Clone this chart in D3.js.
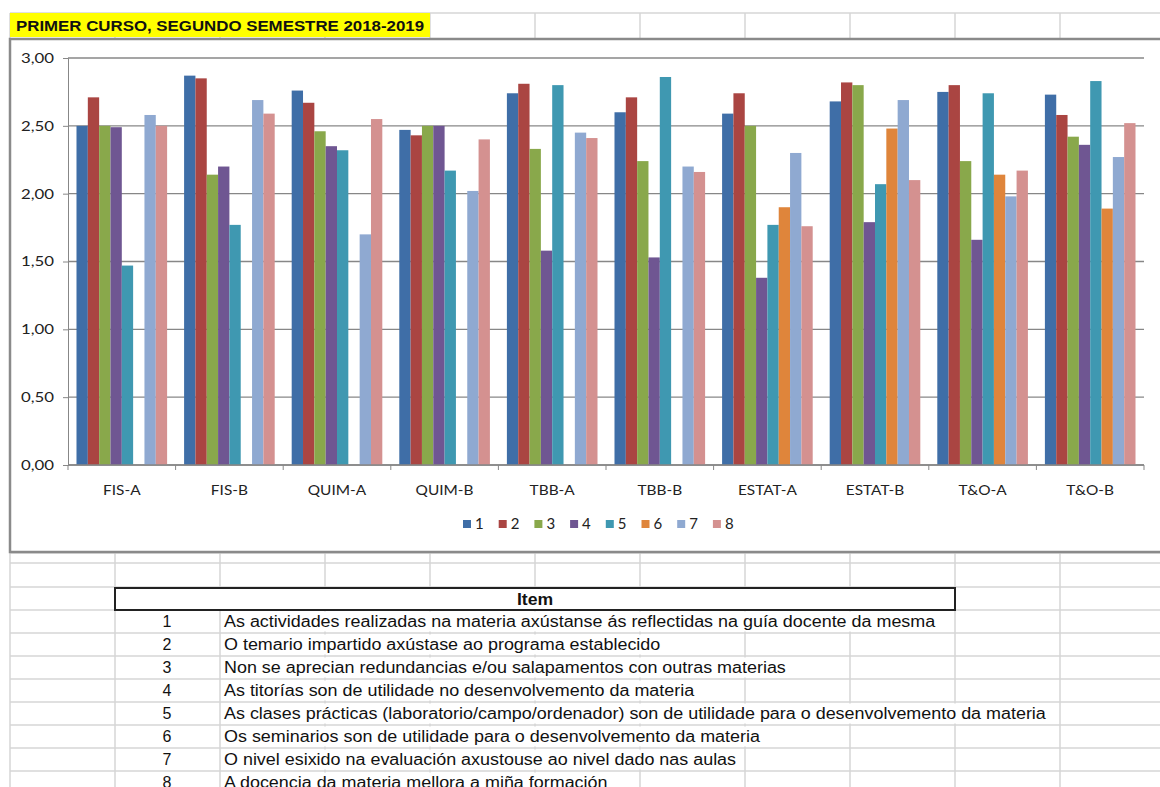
<!DOCTYPE html>
<html>
<head>
<meta charset="utf-8">
<script src="https://cdn.jsdelivr.net/npm/d3@7"></script>
<style>
  body { margin: 0; background: #fff; }
  svg { display: block; }
</style>
</head>
<body>
<script>
// chart data
const categories = ["FIS-A", "FIS-B", "QUIM-A", "QUIM-B", "TBB-A", "TBB-B", "ESTAT-A", "ESTAT-B", "T&O-A", "T&O-B"];
const items = ["1", "2", "3", "4", "5", "6", "7", "8"];
const item1 = [2.50, 2.87, 2.76, 2.47, 2.74, 2.60, 2.59, 2.68, 2.75, 2.73];
const item2 = [2.71, 2.85, 2.67, 2.43, 2.81, 2.71, 2.74, 2.82, 2.80, 2.58];
const item3 = [2.50, 2.14, 2.46, 2.50, 2.33, 2.24, 2.50, 2.80, 2.24, 2.42];
const item4 = [2.49, 2.20, 2.35, 2.50, 1.58, 1.53, 1.38, 1.79, 1.66, 2.36];
const item5 = [1.47, 1.77, 2.32, 2.17, 2.80, 2.86, 1.77, 2.07, 2.74, 2.83];
const item6 = [null, null, null, null, null, null, 1.90, 2.48, 2.14, 1.89];
const item7 = [2.58, 2.69, 1.70, 2.02, 2.45, 2.20, 2.30, 2.69, 1.98, 2.27];
const item8 = [2.50, 2.59, 2.55, 2.40, 2.41, 2.16, 1.76, 2.10, 2.17, 2.52];
const yTicks = [0, 0.5, 1, 1.5, 2, 2.5, 3];

const itemTexts = [
  "As actividades realizadas na materia axústanse ás reflectidas na guía docente da mesma",
  "O temario impartido axústase ao programa establecido",
  "Non se aprecian redundancias e/ou salapamentos con outras materias",
  "As titorías son de utilidade no desenvolvemento da materia",
  "As clases prácticas (laboratorio/campo/ordenador) son de utilidade para o desenvolvemento da materia",
  "Os seminarios son de utilidade para o desenvolvemento da materia",
  "O nivel esixido na evaluación axustouse ao nivel dado nas aulas",
  "A docencia da materia mellora a miña formación"
];

const title = "PRIMER CURSO, SEGUNDO SEMESTRE 2018-2019";

const series = [item1, item2, item3, item4, item5, item6, item7, item8];
const colors = ["#3f6ea7", "#aa4542", "#89a84b", "#6f5692", "#3f98b1", "#df853b", "#8fa9d1", "#d49190"];

const W = 1160, H = 787;
const svg = d3.select("body").append("svg").attr("width", W).attr("height", H);

// the screenshot is a bit stretched sideways, so widen text to match
function stretch(sel, k) {
  sel.each(function () {
    const len = this.getComputedTextLength();
    d3.select(this).attr("textLength", len * k).attr("lengthAdjust", "spacingAndGlyphs");
  });
}

// ---- spreadsheet background ----
const gridCol = "#d6d6d6";
const colX = d3.range(10, W + 1, 105);
const rowY = [553, 563, 587, 610, 633, 656, 679, 702, 725, 748, 771];

const sheet = svg.append("g");
sheet.append("line").attr("x1", 10).attr("x2", W).attr("y1", 13).attr("y2", 13)
  .attr("stroke", gridCol).attr("stroke-width", 1.5);
colX.forEach(x => {
  sheet.append("line").attr("x1", x).attr("x2", x).attr("y1", 13).attr("y2", 38)
    .attr("stroke", gridCol).attr("stroke-width", 1.5);
});
rowY.forEach(y => {
  sheet.append("line").attr("x1", 10).attr("x2", W).attr("y1", y).attr("y2", y)
    .attr("stroke", gridCol).attr("stroke-width", 1.5);
});
colX.forEach(x => {
  sheet.append("line").attr("x1", x).attr("x2", x).attr("y1", 553).attr("y2", H)
    .attr("stroke", gridCol).attr("stroke-width", 1.5);
});

// title cell
sheet.append("rect").attr("x", 10).attr("y", 13).attr("width", 420).attr("height", 24).attr("fill", "#ffff00");
sheet.append("text").attr("x", 16).attr("y", 31)
  .attr("font-family", "Liberation Sans, Arial, sans-serif").attr("font-weight", "bold")
  .attr("font-size", 15).attr("fill", "#111").text(title)
  .attr("textLength", 408).attr("lengthAdjust", "spacingAndGlyphs");

// item table
const tbl = svg.append("g").attr("font-family", "Liberation Sans, Arial, sans-serif").attr("fill", "#111");
tbl.append("rect").attr("x", 115).attr("y", 588).attr("width", 840).attr("height", 22)
  .attr("fill", "#fff").attr("stroke", "#222").attr("stroke-width", 2);
tbl.append("text").attr("x", 535).attr("y", 605).attr("text-anchor", "middle")
  .attr("font-weight", "bold").attr("font-size", 16).text("Item").call(stretch, 1.1);

itemTexts.forEach((t, i) => {
  const ry = 610 + i * 23;
  tbl.append("text").attr("x", 167).attr("y", ry + 17).attr("text-anchor", "middle")
    .attr("font-size", 16).text(items[i]);
  const txt = tbl.append("text").attr("x", 224).attr("y", ry + 17)
    .attr("font-size", 16).text(t).call(stretch, 1.12);
  // white out cell borders covered by long text
  const len = +txt.attr("textLength");
  tbl.insert("rect", "text").attr("x", 221).attr("y", ry + 1.5).attr("width", len + 4).attr("height", 20)
    .attr("fill", "#fff");
});

// ---- chart object ----
const chart = svg.append("g");
chart.append("rect").attr("x", 10).attr("y", 39).attr("width", W + 10).attr("height", 513)
  .attr("fill", "#fff").attr("stroke", "#8a8a8a").attr("stroke-width", 2.5);

const plotL = 68, plotR = 1144, plotT = 58, plotB = 465;

const x0 = d3.scaleBand().domain(categories).range([plotL, plotR])
  .paddingInner(1.5 / 9.5).paddingOuter(0.75 / 9.5);
const x1 = d3.scaleBand().domain(items).range([0, x0.bandwidth()]);
const y = d3.scaleLinear().domain([0, 3]).range([plotB, plotT]);

const fmt = v => d3.format(".2f")(v).replace(".", ",");
const axisFont = "Lato, sans-serif";

// gridlines
chart.append("g").selectAll("line").data(yTicks).join("line")
  .attr("x1", plotL).attr("x2", plotR)
  .attr("y1", d => y(d)).attr("y2", d => y(d))
  .attr("stroke", "#878787").attr("stroke-width", 1.3);

// y axis
const yAxis = chart.append("g").attr("transform", `translate(${plotL},0)`)
  .call(d3.axisLeft(y).tickValues(yTicks).tickFormat(fmt).tickSize(5).tickPadding(9));
yAxis.select(".domain").attr("stroke", "#878787");
yAxis.selectAll(".tick line").attr("stroke", "#878787");
yAxis.selectAll("text").attr("font-family", axisFont).attr("font-size", 14).attr("fill", "#222")
  .call(stretch, 1.2);

// bars
const groups = chart.append("g").selectAll("g").data(categories).join("g")
  .attr("transform", d => `translate(${x0(d)},0)`);
groups.selectAll("rect")
  .data((c, ci) => series.map((s, si) => ({ key: items[si], value: s[ci], color: colors[si] })).filter(d => d.value != null))
  .join("rect")
  .attr("x", d => x1(d.key))
  .attr("width", x1.bandwidth())
  .attr("y", d => y(d.value))
  .attr("height", d => y(0) - y(d.value))
  .attr("fill", d => d.color);

// x axis
const step = (plotR - plotL) / categories.length;
const xAxis = chart.append("g").attr("transform", `translate(0,${plotB})`);
xAxis.append("line").attr("x1", plotL).attr("x2", plotR).attr("stroke", "#878787").attr("stroke-width", 1.3);
xAxis.selectAll(".tk").data(d3.range(categories.length + 1)).join("line")
  .attr("x1", i => plotL + i * step).attr("x2", i => plotL + i * step)
  .attr("y1", 0).attr("y2", 5).attr("stroke", "#878787");
xAxis.selectAll("text").data(categories).join("text")
  .attr("x", d => x0(d) + x0.bandwidth() / 2).attr("y", 30)
  .attr("text-anchor", "middle").attr("font-family", axisFont)
  .attr("font-size", 14).attr("fill", "#222").text(d => d)
  .call(stretch, 1.1);

// legend
const legend = chart.append("g").attr("transform", "translate(463,524)");
const li = legend.selectAll("g").data(items).join("g")
  .attr("transform", (d, i) => `translate(${i * 35.7},0)`);
li.append("rect").attr("x", 0).attr("y", -4).attr("width", 8).attr("height", 8)
  .attr("fill", (d, i) => colors[i]);
li.append("text").attr("x", 12).attr("y", 5).attr("font-family", axisFont)
  .attr("font-size", 15).attr("fill", "#222").text(d => d);
</script>
</body>
</html>
